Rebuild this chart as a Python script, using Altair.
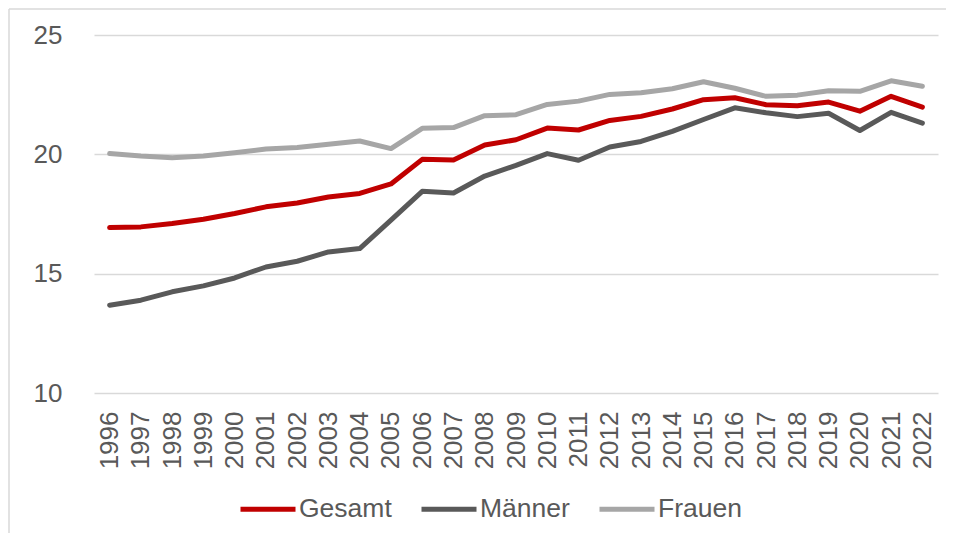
import altair as alt
import pandas as pd

years = [str(y) for y in range(1996, 2023)]

gesamt = [16.93, 16.96, 17.10, 17.28, 17.52, 17.80, 17.96, 18.21, 18.36, 18.76,
          19.79, 19.76, 20.39, 20.61, 21.10, 21.02, 21.42, 21.59, 21.90, 22.29,
          22.37, 22.08, 22.04, 22.19, 21.81, 22.43, 21.98]
maenner = [13.68, 13.89, 14.24, 14.49, 14.82, 15.28, 15.52, 15.91, 16.05, 17.24,
           18.45, 18.38, 19.09, 19.54, 20.03, 19.75, 20.31, 20.54, 20.96, 21.46,
           21.95, 21.74, 21.58, 21.72, 21.00, 21.76, 21.31]
frauen = [20.03, 19.93, 19.86, 19.93, 20.07, 20.22, 20.29, 20.42, 20.56, 20.24,
          21.09, 21.12, 21.62, 21.66, 22.09, 22.23, 22.51, 22.58, 22.75, 23.04,
          22.77, 22.43, 22.48, 22.66, 22.64, 23.08, 22.85]

series = ["Gesamt", "Männer", "Frauen"]
colors = ["#C00000", "#595959", "#A6A6A6"]

rows = []
for name, vals in zip(series, [gesamt, maenner, frauen]):
    for y, v in zip(years, vals):
        rows.append({"Jahr": y, "Wert": v, "Reihe": name})
df = pd.DataFrame(rows)

FONT = "Liberation Sans"
TXT = "#595959"

lines = alt.Chart(df).mark_line(strokeWidth=5, strokeCap="round", strokeJoin="round").encode(
    x=alt.X("Jahr:N", sort=years, title=None,
            scale=alt.Scale(type="point", padding=0.5),
            axis=alt.Axis(labelAngle=-90, labelAlign="right", labelBaseline="middle",
                          labelPadding=18, ticks=False, domain=False, grid=False,
                          labelFontSize=26, labelColor=TXT, labelFont=FONT)),
    y=alt.Y("Wert:Q", title=None,
            scale=alt.Scale(domain=[10, 25], nice=False, zero=False),
            axis=alt.Axis(values=[10, 15, 20, 25], ticks=False, domain=False,
                          labelPadding=32, labelFontSize=26, labelColor=TXT, labelFont=FONT,
                          gridColor="#D9D9D9", gridWidth=1.5)),
    color=alt.Color("Reihe:N", sort=series,
                    scale=alt.Scale(domain=series, range=colors),
                    legend=alt.Legend(title=None, orient="none", direction="horizontal",
                                      legendX=144, legendY=444, symbolType="stroke",
                                      symbolSize=3025, symbolStrokeWidth=5,
                                      labelFontSize=26.5, labelColor=TXT, labelFont=FONT,
                                      labelOffset=1, columnPadding=19, padding=0)),
    order=alt.Order("Jahr:N"),
)

frame = pd.DataFrame({"a": [0]})
left_edge = alt.Chart(frame).mark_rule(color="#D9D9D9", strokeWidth=1.5).encode(
    x=alt.value(-85), y=alt.value(-26), y2=alt.value(700)
)
top_edge = alt.Chart(frame).mark_rule(color="#D9D9D9", strokeWidth=1.5).encode(
    x=alt.value(-85), x2=alt.value(1000), y=alt.value(-26)
)

chart = alt.layer(left_edge, top_edge, lines).properties(
    width=844, height=358,
    autosize=alt.AutoSizeParams(type="none"),
    padding={"left": 86, "top": 27, "right": 8, "bottom": 140},
    background="white",
).configure_view(stroke=None)

chart.save("out.html", embed_options={"renderer": "svg", "actions": False})
